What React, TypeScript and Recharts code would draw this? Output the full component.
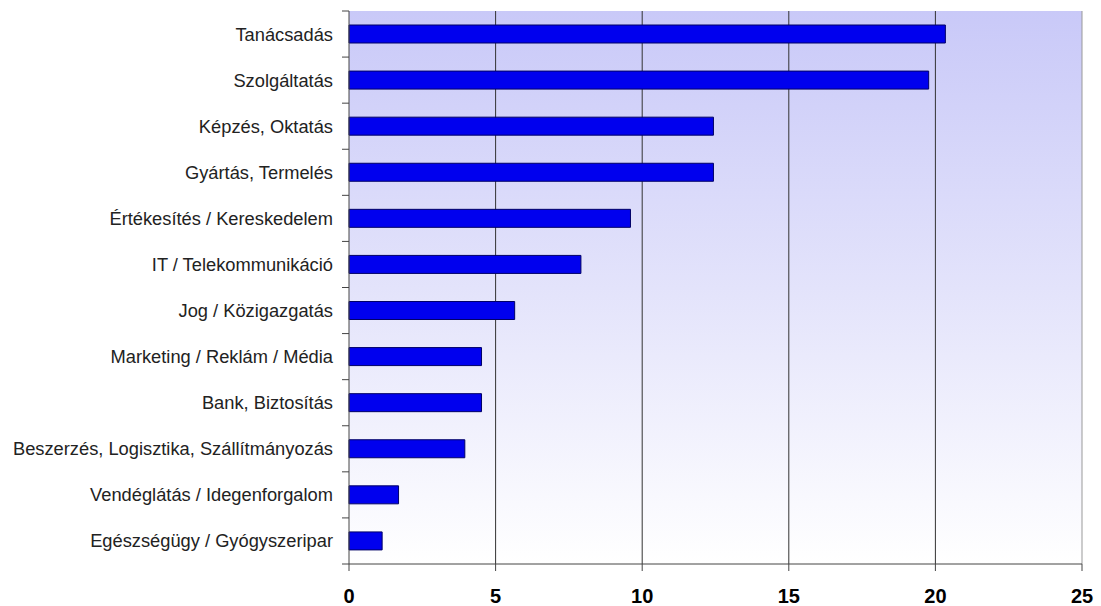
import { BarChart, Bar, XAxis, YAxis, CartesianGrid, ReferenceLine } from "recharts";

const categories = [
  "Tanácsadás",
  "Szolgáltatás",
  "Képzés, Oktatás",
  "Gyártás, Termelés",
  "Értékesítés / Kereskedelem",
  "IT / Telekommunikáció",
  "Jog / Közigazgatás",
  "Marketing / Reklám / Média",
  "Bank, Biztosítás",
  "Beszerzés, Logisztika, Szállítmányozás",
  "Vendéglátás / Idegenforgalom",
  "Egészségügy / Gyógyszeripar",
];
const values = [20.34, 19.77, 12.43, 12.43, 9.6, 7.91, 5.65, 4.52, 4.52, 3.95, 1.69, 1.13];
const xTicks = [0, 5, 10, 15, 20, 25];

const W = 1101;
const H = 606;
const M = { top: 11, right: 19, bottom: 0, left: 0 };
const X_AXIS_H = 42;
const AXIS_X = 349;
const band = (H - M.top - X_AXIS_H) / categories.length;

const data = categories.map((name, i) => ({ name, value: values[i] }));

const CatTick = (props: any) => {
  const { y, payload, index } = props;
  return (
    <g>
      <line x1={AXIS_X - 7} x2={AXIS_X} y1={y - band / 2} y2={y - band / 2} stroke="#444" />
      {index === categories.length - 1 && (
        <line x1={AXIS_X - 7} x2={AXIS_X} y1={y + band / 2} y2={y + band / 2} stroke="#444" />
      )}
      <text x={AXIS_X - 16} y={y} dy="0.355em" textAnchor="end" fontSize={18.3} fill="#222" fontFamily="Arial, 'Liberation Sans', sans-serif">
        {payload.value}
      </text>
    </g>
  );
};

export default function App() {
  return (
    <div style={{ position: "absolute", left: 0, top: 0, width: W, height: H, background: "#fff" }}>
      <BarChart width={W} height={H} data={data} layout="vertical" margin={M} barSize={18}>
        <defs>
          <linearGradient id="bg" x1="0" y1="0" x2="0" y2="1">
            <stop offset="0%" stopColor="#c9c9f8" />
            <stop offset="50%" stopColor="#e3e3fb" />
            <stop offset="100%" stopColor="#ffffff" />
          </linearGradient>
        </defs>
        <CartesianGrid horizontal={false} verticalValues={[5, 10, 15, 20]} stroke="#333" fill="url(#bg)" fillOpacity={1} />
        <XAxis
          type="number"
          domain={[0, 25]}
          ticks={xTicks}
          interval={0}
          stroke="#444"
          tickSize={7}
          tickMargin={18}
          tick={{ fontSize: 20, fontWeight: "bold", fill: "#000", fontFamily: "Arial, 'Liberation Sans', sans-serif" }}
          height={X_AXIS_H}
        />
        <XAxis xAxisId="top" orientation="top" type="number" domain={[0, 25]} height={0} tick={false} tickLine={false} stroke="#999" />
        <YAxis
          type="category"
          dataKey="name"
          width={AXIS_X}
          stroke="#444"
          tickLine={false}
          interval={0}
          tick={<CatTick />}
        />
        <ReferenceLine x={25} stroke="#999" />
        <Bar dataKey="value" fill="#0000ee" stroke="#000066" strokeWidth={1} isAnimationActive={false} />
      </BarChart>
    </div>
  );
}
